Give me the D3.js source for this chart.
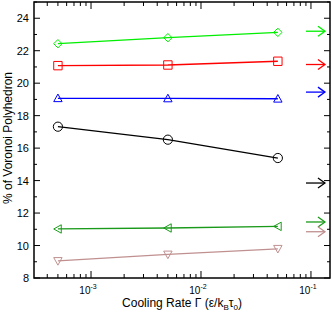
<!DOCTYPE html>
<html>
<head>
<meta charset="utf-8">
<script src="https://cdn.jsdelivr.net/npm/d3@7"></script>
<style>
  body { margin: 0; background: #fff; }
  svg { display: block; font-family: "Liberation Sans", Arial, sans-serif; }
</style>
</head>
<body>
<div id="chart"></div>
<script>
const rates = [5e-4, 5e-3, 5e-2]
const names = ["diamond", "square", "triangle", "circle", "left", "down"]
const colors = ["#00ee00", "#ff0000", "#0000ff", "#000000", "#1a9a1a", "#c09090"]
const values = [
    [22.43, 22.8, 23.13],
    [21.08, 21.12, 21.35],
    [19.07, 19.06, 19.04],
    [17.32, 16.52, 15.39],
    [11.02, 11.08, 11.18],
    [9.05, 9.45, 9.8],
]
// arrows at the right edge (limit values)
const arrow_vals = [23.2, 21.15, 19.45, 13.85, 11.45, 10.85]

const y_ticks = [8, 10, 12, 14, 16, 18, 20, 22, 24]

const width = 332, height = 316
const m = {left: 34, right: 2, top: 2, bottom: 38}

const svg = d3.select("#chart").append("svg")
    .attr("width", width).attr("height", height)

const x = d3.scaleLog().domain([3.03e-4, 0.149]).range([m.left, width - m.right])
const y = d3.scaleLinear().domain([8, 25]).range([height - m.bottom, m.top])

const x0 = m.left, x1 = width - m.right, y0 = height - m.bottom, y1 = m.top

// ticks
const tk = svg.append("g").attr("stroke", "#000").attr("stroke-width", 1)
d3.range(8, 26).forEach(v => {
    let len = v % 2 == 0 ? 6 : 3
    tk.append("line").attr("x1", x0).attr("x2", x0 + len).attr("y1", y(v)).attr("y2", y(v))
    tk.append("line").attr("x1", x1).attr("x2", x1 - len).attr("y1", y(v)).attr("y2", y(v))
})
const xt = []
for (let e = -4; e <= -1; e++)
    for (let k = 1; k <= 9; k++) xt.push(k * Math.pow(10, e))
xt.filter(v => v >= x.domain()[0] && v <= x.domain()[1]).forEach(v => {
    let major = Math.abs(Math.log10(v) - Math.round(Math.log10(v))) < 1e-9
    let len = major ? 7 : 4
    tk.append("line").attr("x1", x(v)).attr("x2", x(v)).attr("y1", y0).attr("y2", y0 - len)
    tk.append("line").attr("x1", x(v)).attr("x2", x(v)).attr("y1", y1).attr("y2", y1 + len)
})

// frame
svg.append("rect").attr("x", x0).attr("y", y1)
    .attr("width", x1 - x0).attr("height", y0 - y1)
    .attr("fill", "none").attr("stroke", "#000").attr("stroke-width", 1.5)

// y labels
svg.append("g").selectAll("text").data(y_ticks).join("text")
    .attr("x", x0 - 5).attr("y", d => y(d) + 4)
    .attr("text-anchor", "end").attr("font-size", 11)
    .text(d => d)

// x labels
const xl = svg.append("g").selectAll("text").data([1e-3, 1e-2, 1e-1]).join("text")
    .attr("x", d => x(d) - 3).attr("y", y0 + 16)
    .attr("text-anchor", "middle").attr("font-size", 10)
xl.append("tspan").text("10")
xl.append("tspan").attr("font-size", 7).attr("dy", -5).text(d => Math.round(Math.log10(d)))

// axis titles
const xt_ = svg.append("text").attr("x", 182).attr("y", 307)
    .attr("text-anchor", "middle").attr("font-size", 12)
xt_.append("tspan").text("Cooling Rate Γ (ε/k")
xt_.append("tspan").attr("font-size", 8).attr("dy", 3).text("B")
xt_.append("tspan").attr("dy", -3).text("τ")
xt_.append("tspan").attr("font-size", 8).attr("dy", 3).text("0")
xt_.append("tspan").attr("dy", -3).text(")")

svg.append("text")
    .attr("transform", "translate(12,138) rotate(-90)")
    .attr("text-anchor", "middle").attr("font-size", 12)
    .text("% of Voronoi Polyhedron")

// symbols
function marker(g, kind, cx, cy, c) {
    let s = 4.2, p
    if (kind == "circle") {
        g.append("circle").attr("cx", cx).attr("cy", cy).attr("r", 4.6)
            .attr("fill", "none").attr("stroke", c)
        return
    }
    if (kind == "square") p = [[-s, -s], [s, -s], [s, s], [-s, s]]
    if (kind == "diamond") p = [[0, -s], [s, 0], [0, s], [-s, 0]]
    if (kind == "triangle") p = [[0, -s], [s, s * 0.8], [-s, s * 0.8]]
    if (kind == "down") p = [[0, s], [s, -s * 0.8], [-s, -s * 0.8]]
    if (kind == "left") p = [[-s, 0], [s * 0.8, -s], [s * 0.8, s]]
    g.append("polygon").attr("points", p.map(d => (cx + d[0]) + "," + (cy + d[1])).join(" "))
        .attr("fill", "none").attr("stroke", c)
}

const line = d3.line().x((d, i) => x(rates[i])).y(d => y(d))

values.forEach((vals, k) => {
    let g = svg.append("g")
    g.append("path").attr("d", line(vals)).attr("fill", "none")
        .attr("stroke", colors[k]).attr("stroke-width", 1.3)
    vals.forEach((v, i) => marker(g, names[k], x(rates[i]), y(v), colors[k]))
})

// arrows
arrow_vals.forEach((v, k) => {
    let g = svg.append("g").attr("stroke", colors[k]).attr("stroke-width", 1.3).attr("fill", "none")
    let ax = x(0.1) - 5, bx = x(0.1) + 14, ay = y(v)
    g.append("line").attr("x1", ax).attr("x2", bx).attr("y1", ay).attr("y2", ay)
    g.append("polyline").attr("points", (bx - 7) + "," + (ay - 5) + " " + bx + "," + ay + " " + (bx - 7) + "," + (ay + 5))
})
</script>
</body>
</html>
